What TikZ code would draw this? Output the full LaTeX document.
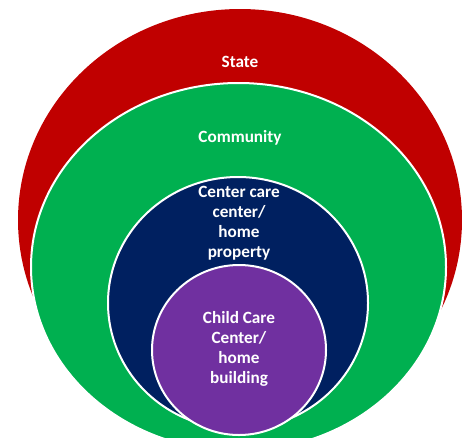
\documentclass[tikz,border=0pt]{standalone}
\usepackage{fontspec}
\setmainfont{Carlito}
\definecolor{stred}{HTML}{C00000}
\definecolor{stgreen}{HTML}{00B050}
\definecolor{stnavy}{HTML}{002060}
\definecolor{stpurple}{HTML}{7030A0}
\begin{document}
\begin{tikzpicture}[x=1pt,y=-1pt,
  ring/.style={draw=white,line width=2pt},
  lbl/.style={text=white,font=\bfseries\fontsize{17.2}{20}\selectfont,align=center,inner sep=0pt}]
\useasboundingbox (0,0) rectangle (462,437);
\clip (0,0) rectangle (462,437);
\fill[stred] (240,220) ellipse [x radius=222, y radius=211];
\path[ring,fill=stgreen] (238.5,267) ellipse [x radius=207.5, y radius=184];
\path[ring,fill=stnavy] (238,303) ellipse [x radius=130, y radius=126];
\path[ring,fill=stpurple] (239,350) ellipse [x radius=87, y radius=85];
\node[lbl] (state) at (240,62) {State};
\node[lbl] (community) at (240,138) {Community};
\node[lbl,anchor=north] (property) at (239,186) {Center care\\center/\\home\\property};
\node[lbl,anchor=north] (building) at (239,311) {Child Care\\Center/\\home\\building};
\end{tikzpicture}
\end{document}
